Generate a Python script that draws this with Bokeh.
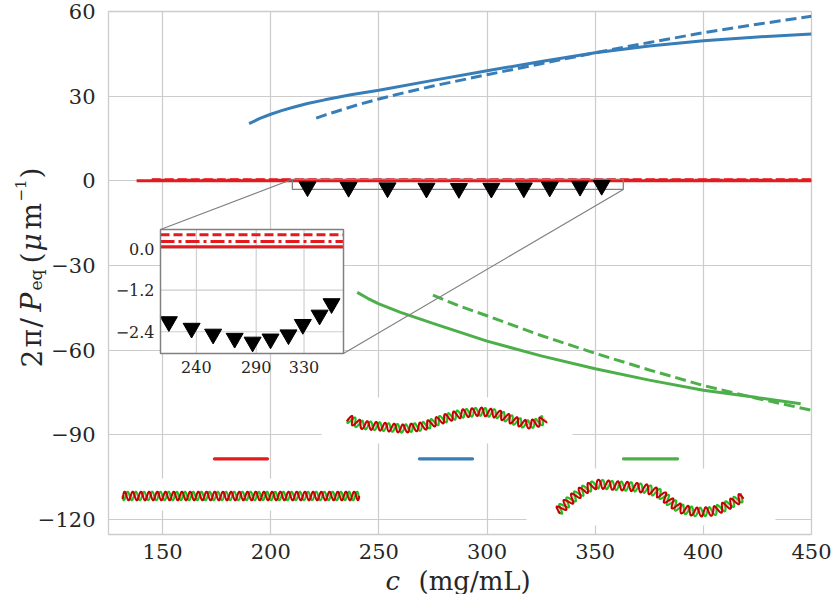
import numpy as np
from bokeh.plotting import figure
from bokeh.models import Range1d
from bokeh.core.properties import value
from bokeh.embed import file_html
from bokeh.resources import INLINE

# ---------------- data ----------------
blue_solid_x = [190, 195, 200, 205, 210, 217, 225, 237, 250, 275, 300, 325, 350, 375, 400, 425, 450]
blue_solid_y = [20.3, 22.1, 23.6, 24.9, 26.0, 27.4, 28.7, 30.5, 32.1, 35.6, 39.0, 42.3, 45.4, 47.8, 49.6, 51.0, 52.0]
blue_dash_x = [221, 225, 230, 240, 250, 262, 275, 300, 325, 350, 375, 400, 425, 450]
blue_dash_y = [22.2, 23.3, 24.5, 26.9, 29.0, 31.3, 33.6, 37.6, 41.5, 45.4, 49.0, 52.5, 55.5, 58.3]
green_solid_x = [240, 245, 250, 260, 275, 300, 325, 350, 375, 400, 425, 445]
green_solid_y = [-39.5, -41.7, -43.6, -46.6, -50.5, -56.8, -62.0, -66.6, -70.6, -74.2, -76.8, -79.0]
green_dash_x = [275, 287, 300, 325, 350, 375, 400, 425, 450]
green_dash_y = [-40.5, -44.3, -47.8, -54.8, -61.1, -67.0, -72.5, -77.1, -81.3]
red_solid_x = [138, 450]
red_solid_y = [0.05, 0.05]
red_dashdot_x = [145, 450]
red_dashdot_y = [0.2, 0.2]
red_dash_x = [145, 450]
red_dash_y = [0.4, 0.4]
tri_x = [217, 236, 254, 272, 287, 302, 317, 329, 343, 353]
tri_y = [-2.11, -2.30, -2.47, -2.59, -2.70, -2.61, -2.49, -2.19, -1.92, -1.59]

x_ticks = [150, 200, 250, 300, 350, 400, 450]
y_ticks = [-120, -90, -60, -30, 0, 30, 60]
inset_x_ticks = [240, 290, 330]
inset_y_ticks = [0.0, -1.2, -2.4]
inset_y_labels = ["0.0", "\u22121.2", "\u22122.4"]

RED, BLUE, GREEN = "#e41a1c", "#377eb8", "#4daf4a"
GRID = "#cccccc"
TXT = "#262626"
FONT = "DejaVu Serif"

# ---------------- layout ----------------
W, H = 831, 594
BL, BR, BT, BB = 108, 20, 11, 60
FW, FH = W - BL - BR, H - BT - BB
XR = (125, 450)
YR = (-125.3, 60)


def px2x(px):
    return XR[0] + (px - BL) * (XR[1] - XR[0]) / FW


def px2y(py):
    return YR[1] - (py - BT) * (YR[1] - YR[0]) / FH


p = figure(width=W, height=H, x_range=Range1d(*XR), y_range=Range1d(*YR),
           output_backend="svg", toolbar_location=None, title=None,
           min_border_left=BL, min_border_right=BR, min_border_top=BT,
           min_border_bottom=BB)
p.background_fill_color = "white"
p.border_fill_color = "white"
p.outline_line_color = GRID
p.outline_line_width = 1.3

for ax, ticks in ((p.xaxis, x_ticks), (p.yaxis, y_ticks)):
    ax.ticker = ticks
    ax.major_label_overrides = {t: str(t).replace("-", "\u2212") for t in ticks}
    ax.major_tick_line_color = None
    ax.minor_tick_line_color = None
    ax.axis_line_color = None
    ax.major_label_text_font = FONT
    ax.major_label_text_font_size = "21px"
    ax.major_label_text_color = TXT
p.xaxis.major_label_standoff = 3
p.yaxis.major_label_standoff = 7
p.xgrid.ticker = x_ticks
p.ygrid.ticker = y_ticks
for g in (p.xgrid, p.ygrid):
    g.grid_line_color = GRID
    g.grid_line_width = 1.2

# curves
p.line(blue_solid_x, blue_solid_y, color=BLUE, line_width=3)
p.line(blue_dash_x, blue_dash_y, color=BLUE, line_width=3, line_dash="11 5")
p.line(green_solid_x, green_solid_y, color=GREEN, line_width=3)
p.line(green_dash_x, green_dash_y, color=GREEN, line_width=3, line_dash="11 5")
p.line(red_dash_x, red_dash_y, color=RED, line_width=3, line_dash="9 4")
p.line(red_dashdot_x, red_dashdot_y, color=RED, line_width=3, line_dash="14 4 3 4")
p.line(red_solid_x, red_solid_y, color=RED, line_width=3)

# ---------------- inset (sub-coordinates) ----------------
IXR = (210, 363)
IYR = (-3.03, 0.55)
IL, IT, IR, IB = 160, 229, 343, 353          # inset frame, canvas px
TX = (px2x(IL), px2x(IR))
TY = (px2y(IB), px2y(IT))

p.quad(left=[IXR[0]], right=[IXR[1]], bottom=[IYR[0]], top=[IYR[1]],
       fill_color=None, line_color="#808080", line_width=1.3)
p.segment(x0=[IXR[0], IXR[1]], y0=[IYR[1], IYR[0]],
          x1=[TX[0], TX[1]], y1=[TY[1], TY[0]],
          line_color="#808080", line_width=1.2)
p.scatter(tri_x, tri_y, marker="inverted_triangle", size=17, color="black")

p.quad(left=[TX[0]], right=[TX[1]], bottom=[TY[0]], top=[TY[1]],
       fill_color="white", line_color=None)

sub = p.subplot(x_source=Range1d(*IXR), y_source=Range1d(*IYR),
                x_target=Range1d(*TX), y_target=Range1d(*TY))
sub.segment(x0=inset_x_ticks, x1=inset_x_ticks, y0=[IYR[0]] * 3, y1=[IYR[1]] * 3,
            line_color=GRID, line_width=1.1)
sub.segment(x0=[IXR[0]] * 3, x1=[IXR[1]] * 3, y0=inset_y_ticks, y1=inset_y_ticks,
            line_color=GRID, line_width=1.1)


def clip_x(xs):
    return [min(max(v, IXR[0]), IXR[1]) for v in xs]


sub.line(clip_x(red_dash_x), red_dash_y, color=RED, line_width=3, line_dash="9 4")
sub.line(clip_x(red_dashdot_x), red_dashdot_y, color=RED, line_width=3,
         line_dash="14 4 3 4")
sub.line(clip_x(red_solid_x), red_solid_y, color=RED, line_width=3)
sub.scatter(tri_x, tri_y, marker="inverted_triangle", size=17, color="black")
sub.quad(left=[IXR[0]], right=[IXR[1]], bottom=[IYR[0]], top=[IYR[1]],
         fill_color=None, line_color="#808080", line_width=1.5)
sub.text(x=inset_x_ticks, y=[IYR[0]] * 3, text=[str(t) for t in inset_x_ticks],
         y_offset=7, text_align="center", text_baseline="top",
         text_font=value(FONT), text_font_size="16px", text_color=TXT)
sub.text(x=[IXR[0]] * 3, y=inset_y_ticks, text=inset_y_labels,
         x_offset=-6, text_align="right", text_baseline="middle",
         text_font=value(FONT), text_font_size="16px", text_color=TXT)

# ---------------- legend-like keys with DNA drawings ----------------
masks = [(115, 366, 478, 510), (321, 572, 397, 443), (526, 775, 468, 525)]
p.quad(left=[px2x(m[0]) for m in masks], right=[px2x(m[1]) for m in masks],
       top=[px2y(m[2]) for m in masks], bottom=[px2y(m[3]) for m in masks],
       fill_color="white", line_color=None)

key_y = 458.3
keys = [((214, 267), RED), ((419, 472), BLUE), ((623, 677), GREEN)]
for (a, b), col in keys:
    p.line([px2x(a), px2x(b)], [px2y(key_y)] * 2, color=col, line_width=3.3,
           line_cap="round")

dna_paths = [
    ([(121, 495.5), (240, 495.5), (360, 495.5)], 8.2, 4.4),
    ([(346.7, 417.7), (360, 424.3), (376.7, 425.7), (403.3, 428.3), (423.3, 425.7),
      (443.3, 418.3), (460, 413.3), (480, 411), (496.7, 413.3), (513.3, 420),
      (526.7, 424.3), (540, 421.7), (545, 417.7)], 9.0, 4.2),
    ([(556.7, 511.7), (570, 499.3), (583.3, 489.3), (596.7, 483.3), (613.3, 485),
      (630, 486), (646.7, 488.3), (660, 493.3), (670, 501.7), (680, 508.3),
      (696.7, 511.7), (713.3, 510.7), (726.7, 505), (743.3, 496)], 9.5, 4.5),
]


def helix(pts, period, amp):
    pts = np.array(pts, float)
    seg = np.hypot(*np.diff(pts, axis=0).T)
    s = np.concatenate([[0], np.cumsum(seg)])
    ss = np.arange(0, s[-1], 0.4)
    cx = np.interp(ss, s, pts[:, 0])
    cy = np.interp(ss, s, pts[:, 1])
    k = 21
    ker = np.ones(k) / k
    cx = np.convolve(np.pad(cx, k // 2, mode="edge"), ker, "valid")
    cy = np.convolve(np.pad(cy, k // 2, mode="edge"), ker, "valid")
    dx, dy = np.gradient(cx), np.gradient(cy)
    nrm = np.hypot(dx, dy)
    nx, ny = -dy / nrm, dx / nrm
    ph = 2 * np.pi * ss / period
    g = (cx + nx * amp * np.sin(ph), cy + ny * amp * np.sin(ph))
    r = (cx + nx * amp * np.sin(ph + 2.4), cy + ny * amp * np.sin(ph + 2.4))
    return g, r


for pts, per, amp in dna_paths:
    g, r = helix(pts, per, amp)
    step = 5
    p.segment(x0=[px2x(v) for v in g[0][::step]], y0=[px2y(v) for v in g[1][::step]],
              x1=[px2x(v) for v in r[0][::step]], y1=[px2y(v) for v in r[1][::step]],
              line_color="#f0a8a8", line_width=1.2, line_alpha=0.85)
    p.line([px2x(v) for v in g[0]], [px2y(v) for v in g[1]], color="#1fbf1f",
           line_width=2.0)
    p.line([px2x(v) for v in r[0]], [px2y(v) for v in r[1]], color="#c40000",
           line_width=2.0)

# ---------------- axis labels (real text, drawn unclipped at overlay level) -------
def lab(text, px, py, size, style="normal", angle=0.0):
    p.text(x=[px2x(px)], y=[px2y(py)], text=[text], text_font=value(FONT),
           text_font_size=f"{size}px", text_font_style=style, text_color=TXT,
           angle=angle, text_align="left", text_baseline="alphabetic",
           level="overlay")

lab("c", 385, 580, 26, "italic")
lab("(mg/mL)", 418, 580, 26)

A = np.pi / 2
lab("2", 31, 367, 28, angle=A)
lab("\u03c0", 31, 347, 28, angle=A)
lab("/", 31, 327, 28, angle=A)
lab("P", 31, 311, 28, "italic", angle=A)
lab("eq", 35, 290, 17, angle=A)
lab("(", 31, 263, 28, angle=A)
lab("\u03bc", 31, 251, 28, "italic", angle=A)
lab("m", 31, 229, 28, angle=A)
lab("\u22121", 20, 201, 15, angle=A)
lab(")", 31, 178, 28, angle=A)

open("out.html", "w").write(file_html(p, INLINE))
